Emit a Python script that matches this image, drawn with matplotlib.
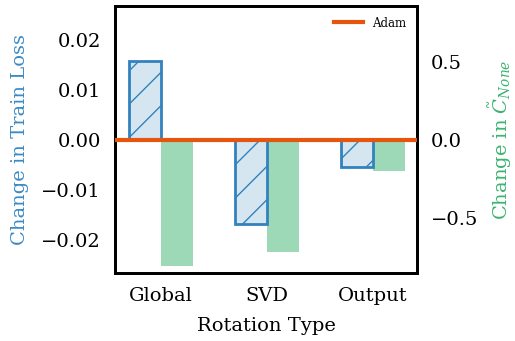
import matplotlib
matplotlib.use("Agg")
import matplotlib.pyplot as plt
import numpy as np

plt.rcParams['font.family'] = 'DejaVu Serif'
plt.rcParams['mathtext.fontset'] = 'dejavuserif'
plt.rcParams['hatch.color'] = '#3182bd'
plt.rcParams['hatch.linewidth'] = 1.0

categories = ['Global', 'SVD', 'Output']
train_loss = [0.0158, -0.0168, -0.0053]
c_none = [-0.81, -0.72, -0.20]

blue = '#3182bd'
green = 'mediumseagreen'

fig = plt.figure(figsize=(5.15, 3.41), dpi=100)
ax = fig.add_axes([0.2233, 0.1994, 0.5864, 0.783])
ax2 = ax.twinx()

x = np.arange(len(categories))
w = 0.3
ax.bar(x - w / 2, train_loss, w, color=(0.19, 0.51, 0.74, 0.2), edgecolor=blue,
       linewidth=2, hatch='/')
ax2.bar(x + w / 2, c_none, w, color=green, alpha=0.5, linewidth=0)
ax.axhline(0, color='#e6550d', linewidth=3, label='Adam', zorder=5)

ax.set_ylim(-0.0266, 0.0268)
ax2.set_ylim(-0.853, 0.859)
ax.set_xlim(-0.434, 2.415)
ax.set_yticks([-0.02, -0.01, 0.0, 0.01, 0.02])
ax2.set_yticks([-0.5, 0.0, 0.5])

ax.set_xticks(x)
ax.set_xticklabels(categories)
ax.set_xlabel('Rotation Type', fontsize=14, labelpad=9)
ax.set_ylabel('Change in Train Loss', fontsize=14, color='#3a8ac4', labelpad=9)
ax2.set_ylabel(r'Change in $\tilde{C}_{None}$', fontsize=14, color=green, labelpad=6)

for a in (ax, ax2):
    a.tick_params(length=0, labelsize=14, pad=10)
    for s in a.spines.values():
        s.set_linewidth(2)
        s.set_color('black')

ax.set_zorder(ax2.get_zorder() + 1)
ax.patch.set_visible(False)
ax.legend(loc='upper right', fontsize=8.5, frameon=False, handlelength=2.4)

fig.savefig('out.png', dpi=100)
